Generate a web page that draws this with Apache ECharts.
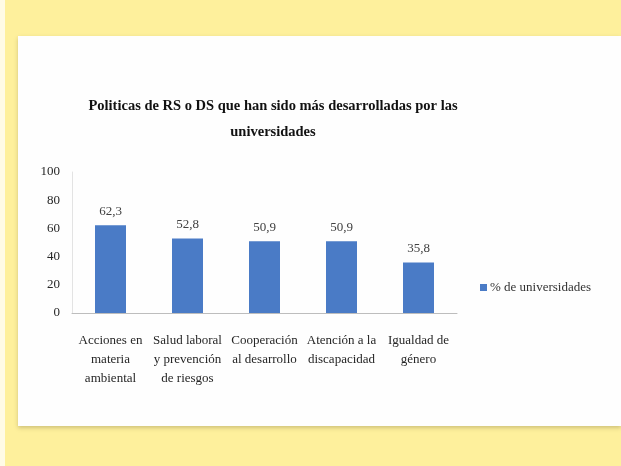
<!DOCTYPE html>
<html>
<head>
<meta charset="utf-8">
<script src="https://cdn.jsdelivr.net/npm/echarts@6/dist/echarts.min.js"></script>
<style>
html,body{margin:0;padding:0;background:#fff;}
#c{width:621px;height:466px;}
</style>
</head>
<body>
<div id="c"></div>
<script>
var titleText = 'Politicas de RS o DS que han sido más desarrolladas por las\nuniversidades';
var categories = ['Acciones en\nmateria\nambiental', 'Salud laboral\ny prevención\nde riesgos', 'Cooperación\nal desarrollo', 'Atención a la\ndiscapacidad', 'Igualdad de\ngénero'];
var seriesName = '% de universidades';
var values = [62.3, 52.8, 50.9, 50.9, 35.8];
var yTicks = [0, 20, 40, 60, 80, 100];

var serif = '"Liberation Serif", "DejaVu Serif", serif';
var chart = echarts.init(document.getElementById('c'));
chart.setOption({
  backgroundColor: '#fef09c',
  animation: false,
  graphic: [
    {type: 'rect', silent: true, z: -10, shape: {x: 0, y: 0, width: 5, height: 466}, style: {fill: '#fffbe6'}},
    {type: 'rect', silent: true, z: -9, shape: {x: 18, y: 36, width: 603, height: 390},
     style: {fill: '#fefefe', shadowColor: 'rgba(120,110,60,0.35)', shadowBlur: 4, shadowOffsetY: 2}}
  ],
  title: {
    text: titleText,
    left: 268,
    top: 88,
    textAlign: 'center',
    textStyle: {fontFamily: serif, fontWeight: 'bold', fontSize: 14.5, color: '#111', lineHeight: 26}
  },
  legend: {
    data: [seriesName],
    left: 475,
    top: 276,
    icon: 'rect',
    itemWidth: 7,
    itemHeight: 7,
    itemGap: 3,
    textStyle: {fontFamily: serif, fontSize: 13, color: '#333', padding: [0,0,0,-2]}
  },
  grid: {left: 72, right: 164, top: 172, bottom: 153, containLabel: false},
  xAxis: {
    type: 'category',
    data: categories,
    axisLine: {show: true, lineStyle: {color: '#bdbdbd', width: 1}},
    axisTick: {show: false},
    axisLabel: {interval: 0, fontFamily: serif, fontSize: 13, color: '#262626', lineHeight: 19, margin: 18}
  },
  yAxis: {
    type: 'value',
    min: yTicks[0],
    max: yTicks[yTicks.length - 1],
    interval: yTicks[1] - yTicks[0],
    splitLine: {show: false},
    axisLine: {show: true, lineStyle: {color: '#e3e3e3'}},
    axisTick: {show: false},
    axisLabel: {fontFamily: serif, fontSize: 13, color: '#262626', margin: 12}
  },
  series: [{
    name: seriesName,
    type: 'bar',
    data: values,
    barWidth: 31,
    itemStyle: {color: '#4a7bc6'},
    label: {
      show: true,
      position: 'top',
      distance: 7,
      fontFamily: serif,
      fontSize: 13,
      color: '#404040',
      formatter: function (p) { return p.value.toFixed(1).replace('.', ','); }
    }
  }]
});
</script>
</body>
</html>
